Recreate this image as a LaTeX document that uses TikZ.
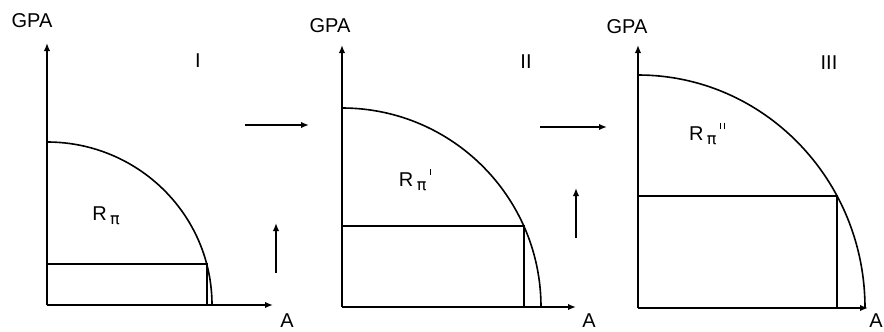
\documentclass[tikz,border=0pt]{standalone}
\usepackage{fontspec}
\setmainfont{Liberation Sans}
\newfontfamily\pifont{DejaVu Sans}
\usetikzlibrary{arrows.meta}
\tikzset{
  ln/.style={line width=1.6pt},
  arr/.style={line width=1.6pt,-{Latex[length=8pt,width=6.5pt]}},
  lbl/.style={inner sep=0pt,font=\fontsize{20}{22}\selectfont},
}
\newcommand{\pisub}{{\pifont\fontsize{16}{16}\selectfont\raisebox{-0.45ex}{π}}}
\newcommand{\tk}{\raisebox{1.1ex}{\rule{1.3pt}{6pt}}}
\begin{document}
\begin{tikzpicture}[x=1pt,y=-1pt]
\useasboundingbox (0,0) rectangle (884,332);
% Panel I
\coordinate (o1) at (47,305);
\coordinate (y1) at (47,43);
\coordinate (x1) at (273,305);
\draw[arr] (o1) -- (y1);
\draw[arr] (o1) -- (x1);
\draw[ln] (212,305) arc[start angle=0,end angle=-90,x radius=165,y radius=163];
\draw[ln] (47,264) -- (207,264) -- (207,305);
\node[lbl] (g1) at (32,21) {GPA};
\node[lbl] (a1) at (287,321) {A};
\node[lbl] (n1) at (198,61) {I};
\node[lbl] (r1) at (106,216) {R\,\pisub};
% Panel II
\coordinate (o2) at (342,307);
\coordinate (y2) at (342,45);
\coordinate (x2) at (576,307);
\draw[arr] (o2) -- (y2);
\draw[arr] (o2) -- (x2);
\draw[ln] (541,307) arc[start angle=0,end angle=-90,x radius=199,y radius=199];
\draw[ln] (342,226) -- (524,226) -- (524,307);
\node[lbl] (g2) at (330,26) {GPA};
\node[lbl] (a2) at (589,321) {A};
\node[lbl] (n2) at (526,62) {II};
\node[lbl] (r2) at (415,180) {R\,\pisub\,\tk};
% Panel III
\coordinate (o3) at (638,308);
\coordinate (y3) at (638,45);
\coordinate (x3) at (868,308);
\draw[arr] (o3) -- (y3);
\draw[arr] (o3) -- (x3);
\draw[ln] (865,308) arc[start angle=0,end angle=-90,x radius=227,y radius=233];
\draw[ln] (638,196) -- (837,196) -- (837,308);
\node[lbl] (g3) at (627,27) {GPA};
\node[lbl] (a3) at (876,321) {A};
\node[lbl] (n3) at (829,63) {III};
\node[lbl] (r3) at (707,134) {R\,\pisub\,\tk\hspace{2.5pt}\tk};
% transition arrows
\coordinate (h1s) at (245,125);
\coordinate (h1e) at (309,125);
\coordinate (h2s) at (540,127);
\coordinate (h2e) at (607,127);
\draw[arr] (h1s) -- (h1e);
\draw[arr] (h2s) -- (h2e);
\coordinate (u1s) at (276,273);
\coordinate (u1e) at (276,223);
\coordinate (u2s) at (576,238);
\coordinate (u2e) at (576,188);
\draw[arr] (u1s) -- (u1e);
\draw[arr] (u2s) -- (u2e);
\end{tikzpicture}
\end{document}
